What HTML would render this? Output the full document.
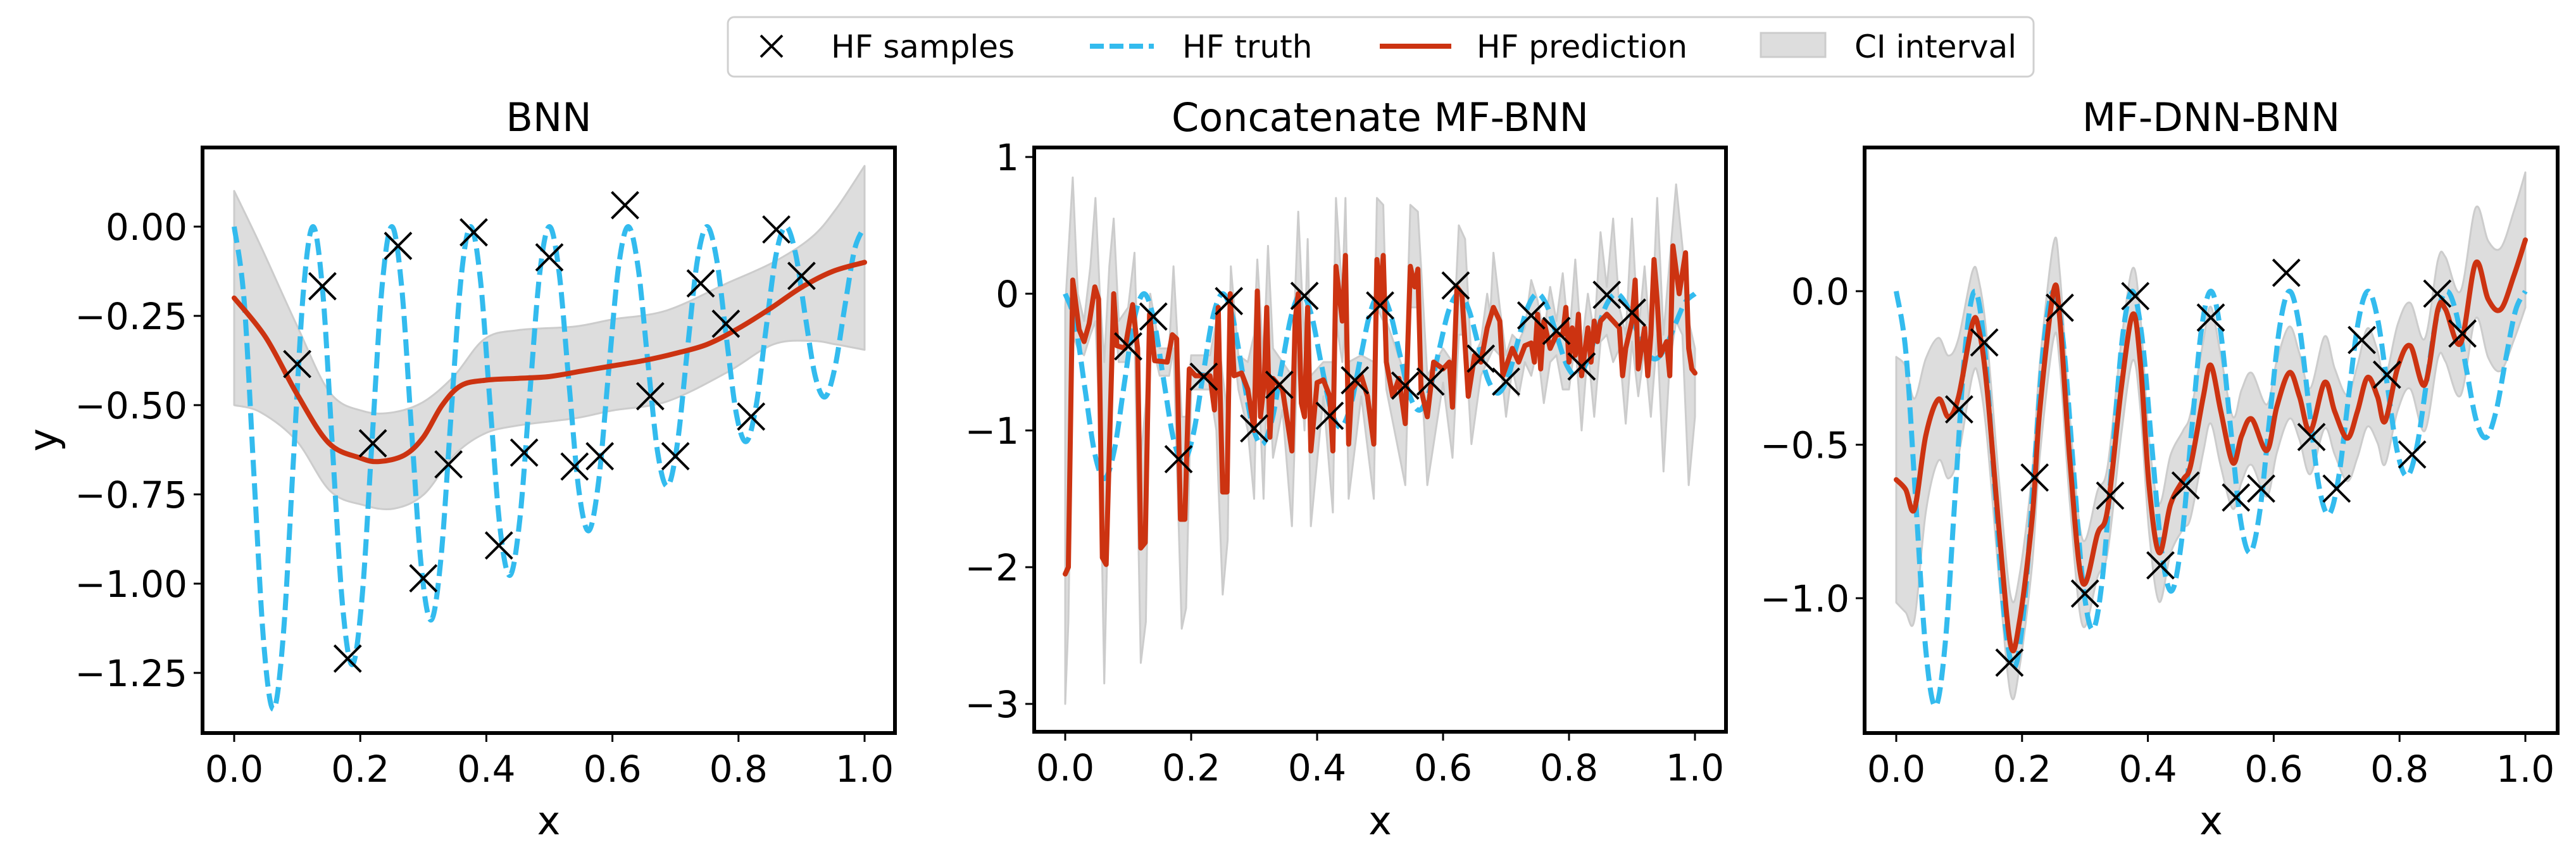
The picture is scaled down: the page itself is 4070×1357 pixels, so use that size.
<!DOCTYPE html>
<html><head><meta charset="utf-8">
<style>
html,body{margin:0;padding:0;background:#fff;}
svg{display:block;}
text{font-family:"DejaVu Sans","Liberation Sans",sans-serif;fill:#000;}
</style></head>
<body>
<svg id="fig" width="4070" height="1357" viewBox="0 0 4070 1357" xmlns="http://www.w3.org/2000/svg">
<rect width="4070" height="1357" fill="#fff"/>
<defs>
<clipPath id="c1"><rect x="320" y="233" width="1094" height="925"/></clipPath>
<clipPath id="c2"><rect x="1634" y="233" width="1093" height="923"/></clipPath>
<clipPath id="c3"><rect x="2946" y="233" width="1095" height="925"/></clipPath>
</defs>
<g>
<rect x="1150" y="27" width="2063" height="94" rx="10" fill="#fff" stroke="#d0d0d0" stroke-width="3"/>
<g>
<path d="M1202,56 L1236,90 M1236,56 L1202,90" stroke="#000" stroke-width="4"/>
<text x="1313" y="91" font-size="50">HF samples</text></g>
<g>
<path d="M1722,73 L1823,73" stroke="#33bbee" stroke-width="8" stroke-dasharray="22 9"/>
<text x="1868" y="91" font-size="50">HF truth</text></g>
<g>
<path d="M2180,73 L2293,73" stroke="#cc3311" stroke-width="8"/>
<text x="2333" y="91" font-size="50">HF prediction</text></g>
<g>
<rect x="2782" y="52" width="102" height="38" fill="#dddddd" stroke="#cccccc" stroke-width="3"/>
<text x="2930" y="91" font-size="50">CI interval</text></g>
</g>
<g id="panels"></g>
</svg>
<script>
// ---- shared data ----
const truthY = [0,-0.2048,-0.6915,-1.1671,-1.3517,-1.1405,-0.6602,-0.1910,
0,-0.1865,-0.6290,-1.0604,-1.2267,-1.0338,-0.5977,-0.1727,
0,-0.1682,-0.5665,-0.9537,-1.1017,-0.9271,-0.5352,-0.1544,
0,-0.1499,-0.5040,-0.8470,-0.9767,-0.8204,-0.4727,-0.1361,
0,-0.1316,-0.4415,-0.7403,-0.8517,-0.7137,-0.4102,-0.1178,
0,-0.1133,-0.3790,-0.6336,-0.7267,-0.6070,-0.3477,-0.0995,
0,-0.0950,-0.3165,-0.5269,-0.6017,-0.5003,-0.2852,-0.0812,
0,-0.0767,-0.2540,-0.4202,-0.4767,-0.3936,-0.2227,-0.0629,0];
const sampleX = [0.10,0.14,0.18,0.22,0.26,0.30,0.34,0.38,0.42,0.46,0.50,0.54,0.58,0.62,0.66,0.70,0.74,0.78,0.82,0.86,0.90];
const sampleY = [-0.385,-0.167,-1.21,-0.607,-0.054,-0.985,-0.666,-0.016,-0.893,-0.633,-0.086,-0.672,-0.643,0.06,-0.475,-0.643,-0.159,-0.272,-0.532,-0.008,-0.138];
const xTicks = [0,0.2,0.4,0.6,0.8,1.0];
const xTickLabels = ["0.0","0.2","0.4","0.6","0.8","1.0"];

// ---- panel 1 (BNN) ----
const pred1X = [0,0.05,0.1,0.15,0.2,0.23,0.27,0.3,0.33,0.36,0.4,0.45,0.5,0.55,0.6,0.65,0.7,0.75,0.8,0.85,0.9,0.95,1.0];
const pred1Y = [-0.2,-0.31,-0.47,-0.606,-0.648,-0.658,-0.64,-0.59,-0.5,-0.445,-0.43,-0.425,-0.42,-0.405,-0.39,-0.375,-0.355,-0.33,-0.285,-0.23,-0.17,-0.125,-0.1];
const ci1X = [0,0.042,0.099,0.152,0.205,0.253,0.301,0.349,0.397,0.45,0.54,0.6,0.686,0.78,0.855,0.916,0.955,1.0];
const ci1Upper = [0.1,-0.054,-0.275,-0.465,-0.517,-0.52,-0.49,-0.418,-0.315,-0.29,-0.28,-0.26,-0.235,-0.16,-0.1,-0.03,0.05,0.17];
const ci1Lower = [-0.5,-0.52,-0.6,-0.74,-0.78,-0.79,-0.75,-0.64,-0.58,-0.557,-0.537,-0.515,-0.49,-0.41,-0.33,-0.32,-0.33,-0.345];
const yTicks1 = [0,-0.25,-0.5,-0.75,-1.0,-1.25];
const yTickLabels1 = ["0.00","\u22120.25","\u22120.50","\u22120.75","\u22121.00","\u22121.25"];

// ---- panel 2 (Concatenate MF-BNN) [x, y] ----
const pred2 = [[0,-2.05],[0.005,-2.0],[0.012,0.1],[0.022,-0.26],[0.03,-0.35],[0.038,-0.22],[0.047,0.05],[0.053,-0.04],[0.059,-1.93],[0.065,-1.98],[0.071,-1.0],[0.077,0.0],[0.082,-0.38],[0.095,-0.4],[0.107,-0.08],[0.115,-0.4],[0.12,-1.86],[0.127,-1.82],[0.134,-0.15],[0.142,-0.49],[0.162,-0.5],[0.17,-0.3],[0.177,-0.33],[0.183,-1.65],[0.19,-1.65],[0.197,-0.55],[0.207,-0.6],[0.23,-0.6],[0.237,-0.85],[0.243,-0.1],[0.245,-0.55],[0.25,-1.45],[0.257,-1.45],[0.262,0.0],[0.268,-0.6],[0.28,-0.58],[0.29,-0.7],[0.3,-1.0],[0.305,0.02],[0.31,-0.9],[0.316,-0.65],[0.32,-0.1],[0.325,-1.05],[0.33,-0.62],[0.345,-0.7],[0.36,-1.15],[0.365,-0.2],[0.37,0.0],[0.375,-0.8],[0.38,-0.9],[0.385,-0.1],[0.39,-1.15],[0.4,-0.65],[0.41,-0.63],[0.42,-0.75],[0.425,-1.15],[0.43,0.2],[0.435,0.0],[0.44,-0.2],[0.445,0.28],[0.45,-1.1],[0.455,-0.7],[0.47,-0.6],[0.48,-0.75],[0.49,-1.1],[0.495,0.25],[0.5,-0.05],[0.505,0.28],[0.51,-0.5],[0.52,-0.75],[0.53,-0.62],[0.54,-0.95],[0.548,0.2],[0.555,0.05],[0.56,0.18],[0.565,-0.7],[0.575,-0.9],[0.585,-0.5],[0.6,-0.55],[0.61,-0.5],[0.615,-0.83],[0.622,0.05],[0.63,0.0],[0.64,-0.75],[0.65,-0.45],[0.66,-0.5],[0.67,-0.25],[0.68,-0.1],[0.69,-0.2],[0.695,-0.6],[0.71,-0.4],[0.72,-0.5],[0.73,-0.38],[0.74,-0.36],[0.745,-0.5],[0.75,-0.15],[0.755,-0.55],[0.76,-0.2],[0.77,-0.4],[0.78,-0.3],[0.79,-0.3],[0.795,-0.1],[0.8,-0.5],[0.805,-0.25],[0.81,-0.45],[0.815,-0.15],[0.82,-0.6],[0.83,-0.25],[0.835,-0.5],[0.84,-0.2],[0.845,-0.35],[0.85,-0.2],[0.86,-0.15],[0.87,-0.2],[0.88,-0.25],[0.885,-0.6],[0.89,-0.4],[0.9,-0.2],[0.905,0.1],[0.91,-0.55],[0.92,-0.25],[0.925,-0.6],[0.93,-0.3],[0.935,0.25],[0.94,-0.05],[0.945,-0.45],[0.955,-0.35],[0.96,-0.6],[0.965,0.35],[0.975,0.0],[0.985,0.3],[0.99,-0.4],[0.995,-0.55],[1.0,-0.58]];
// [x, lower, upper]
const ciBand2 = [[0,-3.0,-0.1],[0.005,-2.4,0.3],[0.012,-0.3,0.85],[0.02,-0.4,0.0],[0.03,-0.45,-0.2],[0.04,-0.3,0.2],[0.048,-0.2,0.7],[0.055,-1.0,0.0],[0.062,-2.85,-0.5],[0.07,-1.2,0.2],[0.077,-0.1,0.55],[0.085,-0.5,-0.2],[0.1,-0.5,-0.1],[0.11,-0.3,0.3],[0.12,-2.7,-1.2],[0.128,-2.4,-0.8],[0.135,-0.3,0.0],[0.15,-0.6,-0.4],[0.165,-0.6,-0.4],[0.172,-0.4,0.2],[0.185,-2.45,-0.9],[0.192,-2.3,-0.9],[0.2,-0.7,-0.45],[0.23,-0.7,-0.45],[0.24,-1.0,-0.2],[0.25,-2.2,-0.6],[0.258,-1.8,-0.9],[0.263,-0.2,0.2],[0.275,-0.7,-0.45],[0.29,-1.0,-0.5],[0.3,-1.5,-0.3],[0.305,-0.4,0.25],[0.315,-1.5,-0.5],[0.322,-0.4,0.35],[0.33,-1.2,-0.4],[0.345,-0.85,-0.5],[0.36,-1.7,-0.6],[0.37,-0.3,0.6],[0.38,-1.0,-0.4],[0.385,-0.4,0.4],[0.39,-1.7,-0.6],[0.41,-0.75,-0.5],[0.425,-1.6,-0.5],[0.43,-0.2,0.7],[0.44,-0.5,0.0],[0.445,-0.2,0.7],[0.45,-1.5,-0.5],[0.47,-0.75,-0.45],[0.49,-1.5,-0.5],[0.495,-0.1,0.7],[0.505,-0.2,0.65],[0.51,-0.7,-0.2],[0.54,-1.4,-0.6],[0.548,-0.1,0.65],[0.56,-0.1,0.6],[0.575,-1.4,-0.6],[0.6,-0.65,-0.4],[0.615,-1.2,-0.5],[0.625,-0.3,0.5],[0.635,-0.3,0.4],[0.645,-1.1,-0.5],[0.66,-0.6,-0.35],[0.67,-0.5,0.0],[0.675,-0.45,-0.15],[0.68,-0.4,0.3],[0.69,-0.45,-0.1],[0.7,-0.9,-0.45],[0.71,-0.55,-0.3],[0.72,-0.75,-0.35],[0.73,-0.5,-0.25],[0.74,-0.6,0.1],[0.75,-0.4,-0.05],[0.76,-0.8,-0.3],[0.77,-0.5,0.05],[0.78,-0.45,-0.2],[0.79,-0.7,0.15],[0.8,-0.7,-0.35],[0.81,-0.35,0.25],[0.82,-1.0,-0.4],[0.83,-0.4,0.0],[0.84,-0.9,-0.3],[0.85,-0.35,0.45],[0.86,-0.3,0.05],[0.87,-0.5,0.55],[0.88,-0.4,-0.1],[0.89,-0.95,-0.3],[0.9,-0.35,0.55],[0.91,-0.75,-0.3],[0.92,-0.4,0.2],[0.93,-0.9,-0.4],[0.94,-0.3,0.7],[0.95,-1.3,-0.3],[0.96,-0.5,0.25],[0.97,-0.2,0.8],[0.98,-0.3,0.35],[0.99,-1.4,-0.2],[1.0,-0.9,-0.4]];
const yTicks2 = [1,0,-1,-2,-3];
const yTickLabels2 = ["1","0","\u22121","\u22122","\u22123"];

// ---- panel 3 (MF-DNN-BNN) [x, y, halfwidth] ----
const pred3 = [[0,-0.614,0.4],[0.015,-0.646,0.4],[0.029,-0.71,0.36],[0.047,-0.47,0.25],[0.067,-0.352,0.2],[0.083,-0.41,0.2],[0.099,-0.344,0.19],[0.121,-0.106,0.17],[0.131,-0.122,0.16],[0.144,-0.31,0.16],[0.164,-0.79,0.16],[0.182,-1.154,0.16],[0.196,-1.075,0.15],[0.216,-0.741,0.15],[0.228,-0.392,0.15],[0.25,0.0,0.155],[0.26,-0.09,0.15],[0.276,-0.55,0.14],[0.296,-0.948,0.14],[0.32,-0.79,0.14],[0.336,-0.71,0.14],[0.358,-0.31,0.15],[0.376,-0.075,0.15],[0.388,-0.233,0.15],[0.402,-0.637,0.15],[0.418,-0.852,0.16],[0.436,-0.694,0.16],[0.456,-0.614,0.16],[0.468,-0.567,0.17],[0.488,-0.344,0.18],[0.5,-0.241,0.19],[0.516,-0.392,0.18],[0.535,-0.559,0.15],[0.549,-0.471,0.15],[0.565,-0.416,0.15],[0.589,-0.519,0.15],[0.605,-0.376,0.15],[0.625,-0.265,0.15],[0.641,-0.344,0.14],[0.658,-0.456,0.14],[0.681,-0.297,0.15],[0.697,-0.392,0.14],[0.717,-0.479,0.14],[0.733,-0.392,0.15],[0.749,-0.281,0.16],[0.765,-0.344,0.15],[0.777,-0.424,0.14],[0.797,-0.249,0.14],[0.817,-0.178,0.14],[0.84,-0.305,0.15],[0.861,-0.059,0.16],[0.873,-0.059,0.17],[0.897,-0.17,0.17],[0.921,0.092,0.18],[0.941,-0.027,0.19],[0.961,-0.059,0.2],[0.982,0.052,0.21],[1.0,0.167,0.22]];
const yTicks3 = [0,-0.5,-1.0];
const yTickLabels3 = ["0.0","\u22120.5","\u22121.0"];

const NS = "http://www.w3.org/2000/svg";
function mk(tag, attrs, parent){
  const e = document.createElementNS(NS, tag);
  for (const k in attrs) e.setAttribute(k, attrs[k]);
  parent.appendChild(e); return e;
}
function catmull(pts){
  let d = "M" + pts[0][0].toFixed(1) + "," + pts[0][1].toFixed(1);
  for (let i=0;i<pts.length-1;i++){
    const p0 = pts[Math.max(0,i-1)], p1 = pts[i], p2 = pts[i+1], p3 = pts[Math.min(pts.length-1,i+2)];
    const c1x = p1[0]+(p2[0]-p0[0])/6, c1y = p1[1]+(p2[1]-p0[1])/6;
    const c2x = p2[0]-(p3[0]-p1[0])/6, c2y = p2[1]-(p3[1]-p1[1])/6;
    d += " C"+c1x.toFixed(1)+","+c1y.toFixed(1)+" "+c2x.toFixed(1)+","+c2y.toFixed(1)+" "+p2[0].toFixed(1)+","+p2[1].toFixed(1);
  }
  return d;
}
function linear(pts){ return "M" + pts.map(p=>p[0].toFixed(1)+","+p[1].toFixed(1)).join(" L"); }

const root = document.getElementById("panels");

function panel(cfg){
  const g = mk("g", {}, root);
  
  
  const sx = v => cfg.x0 + cfg.xs * v;
  const sy = v => cfg.y0 - cfg.ys * v;
  const plot = mk("g", {"clip-path":"url(#"+cfg.clip+")"}, g);
  
  
  const up = cfg.bandX.map((x,i)=>[sx(x), sy(cfg.bandU[i])]);
  const lo = cfg.bandX.map((x,i)=>[sx(x), sy(cfg.bandL[i])]).reverse();
  const mkLine = cfg.smooth ? catmull : linear;
  const bd = mkLine(up) + " L" + mkLine(lo).slice(1) + " Z";
  const band = mk("path", {d:bd, fill:"#dddddd", stroke:"#cccccc", "stroke-width":3, "stroke-linejoin":"round"}, plot);
  
  
  const tp = truthY.map((v,i)=>[sx(i/(truthY.length-1)), sy(v)]);
  const truth = mk("path", {d:catmull(tp), fill:"none", stroke:"#33bbee", "stroke-width":8, "stroke-dasharray":"26 11"}, plot);
  
  
  const pp = cfg.predX.map((x,i)=>[sx(x), sy(cfg.predY[i])]);
  const pred = mk("path", {d:mkLine(pp), fill:"none", stroke:"#cc3311", "stroke-width":8, "stroke-linejoin":"round", "stroke-linecap":"round"}, plot);
  
  
  sampleX.forEach((x,i)=>{
    const cx = sx(x), cy = sy(sampleY[i]), r = 21;
    const m = mk("path", {d:`M${cx-r},${cy-r} L${cx+r},${cy+r} M${cx+r},${cy-r} L${cx-r},${cy+r}`, stroke:"#000", "stroke-width":4, fill:"none"}, plot);
    
    
  });
  const fr = mk("rect", {x:cfg.bx, y:cfg.by, width:cfg.bw, height:cfg.bh, fill:"none", stroke:"#000", "stroke-width":6}, g);
  
  
  xTicks.forEach((t,i)=>{
    const x = sx(t), yb = cfg.by+cfg.bh;
    const tk = mk("line", {x1:x, y1:yb, x2:x, y2:yb+14, stroke:"#000", "stroke-width":3}, g);
    
    
    const tx = mk("text", {x:x, y:yb+77, "font-size":58, "text-anchor":"middle"}, g);
    tx.textContent = xTickLabels[i];
    
    
  });
  cfg.yTicks.forEach((t,i)=>{
    const y = sy(t);
    const tk = mk("line", {x1:cfg.bx-14, y1:y, x2:cfg.bx, y2:y, stroke:"#000", "stroke-width":3}, g);
    
    
    const tx = mk("text", {x:cfg.bx-24, y:y+21, "font-size":58, "text-anchor":"end"}, g);
    tx.textContent = cfg.yLabels[i];
    
    
  });
  const cx = cfg.bx + cfg.bw/2;
  const title = mk("text", {x:cx, y:207, "font-size":62, "text-anchor":"middle"}, g);
  title.textContent = cfg.title;
  
  
  const xl = mk("text", {x:cx, y:1318, "font-size":62, "text-anchor":"middle"}, g);
  xl.textContent = "x";
  
  
}

panel({name:"panel-bnn", clip:"c1", title:"BNN", x0:370, xs:996, y0:358, ys:564, bx:320, by:233, bw:1094, bh:925,
  bandX:ci1X, bandU:ci1Upper, bandL:ci1Lower, predX:pred1X, predY:pred1Y, smooth:true, yTicks:yTicks1, yLabels:yTickLabels1});
panel({name:"panel-concatenate-mf-bnn", clip:"c2", title:"Concatenate MF-BNN", x0:1683, xs:995, y0:464, ys:216, bx:1634, by:233, bw:1093, bh:923,
  bandX:ciBand2.map(r=>r[0]), bandU:ciBand2.map(r=>r[2]), bandL:ciBand2.map(r=>r[1]),
  predX:pred2.map(r=>r[0]), predY:pred2.map(r=>r[1]), smooth:false, yTicks:yTicks2, yLabels:yTickLabels2});
panel({name:"panel-mf-dnn-bnn", clip:"c3", title:"MF-DNN-BNN", x0:2996, xs:994, y0:460, ys:485, bx:2946, by:233, bw:1095, bh:925,
  bandX:pred3.map(r=>r[0]), bandU:pred3.map(r=>r[1]+r[2]), bandL:pred3.map(r=>r[1]-r[2]),
  predX:pred3.map(r=>r[0]), predY:pred3.map(r=>r[1]), smooth:true, yTicks:yTicks3, yLabels:yTickLabels3});

const yl = mk("text", {x:0, y:0, "font-size":62, "text-anchor":"middle", transform:"translate(90,695) rotate(-90)"}, root);
yl.textContent = "y";


</script>
</body></html>
